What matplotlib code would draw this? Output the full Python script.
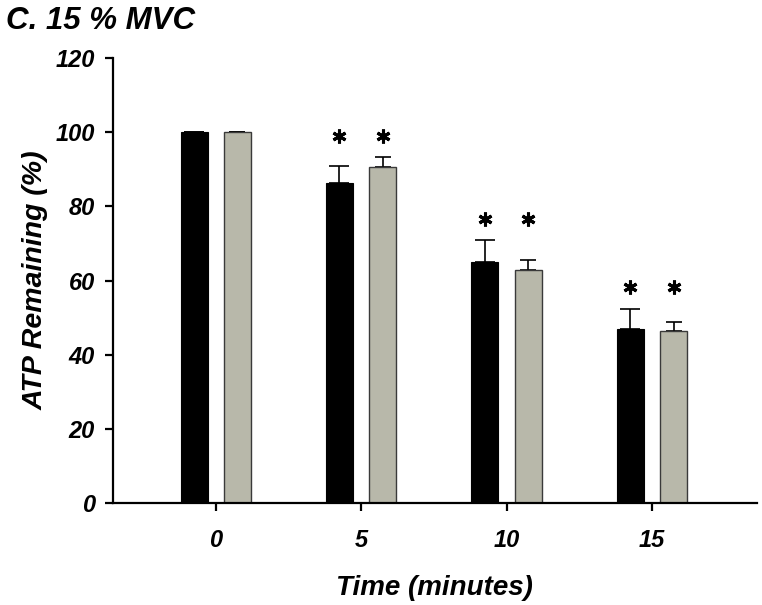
import matplotlib
matplotlib.use("Agg")
import matplotlib.pyplot as plt
import numpy as np

times = ["0", "5", "10", "15"]
black_vals = [100, 86.2, 65.0, 46.8]
black_err = [0, 4.8, 5.9, 5.5]
gray_vals = [100, 90.6, 62.8, 46.4]
gray_err = [0, 2.6, 2.7, 2.3]
star_y = [None, 99.0, 76.6, 58.3]

fig = plt.figure(figsize=(7.62, 6.05), dpi=100)
ax = fig.add_axes([0.148, 0.1686, 0.845, 0.7354])

x = np.arange(len(times))
off = 0.149
w = 0.186
ax.bar(x - off, black_vals, w, color="black", edgecolor="black", linewidth=0.8, zorder=2)
ax.bar(x + off, gray_vals, w, color="#b8b8aa", edgecolor="#3a3a3a", linewidth=1.0, zorder=2)
ax.errorbar(x - off, black_vals, yerr=[np.zeros(4), black_err], fmt="none",
            ecolor="black", elinewidth=1.2, capsize=7, capthick=1.2, zorder=1)
ax.errorbar(x + off, gray_vals, yerr=[np.zeros(4), gray_err], fmt="none",
            ecolor="black", elinewidth=1.2, capsize=6, capthick=1.2, zorder=1)

for i in range(len(times)):
    if star_y[i] is not None:
        ax.plot([x[i] - off, x[i] + off], [star_y[i], star_y[i]], linestyle="none",
                marker=(6, 2, 0), markersize=10, markeredgewidth=2.2, color="black",
                clip_on=False, zorder=3)

ax.set_xlim(-0.708, 3.72)
ax.set_ylim(0, 120)
ax.set_yticks([0, 20, 40, 60, 80, 100, 120])
ax.set_xticks(x)
ax.set_xticklabels(times)
for s in ["top", "right"]:
    ax.spines[s].set_visible(False)
for s in ["left", "bottom"]:
    ax.spines[s].set_linewidth(1.6)
ax.tick_params(axis="both", width=1.6, length=6, direction="out")
ax.tick_params(axis="x", pad=13)
ax.tick_params(axis="y", pad=7)
for lab in ax.get_xticklabels() + ax.get_yticklabels():
    lab.set_family("Liberation Sans")
    lab.set_fontweight("bold")
    lab.set_fontstyle("italic")
    lab.set_fontsize(17)

ax.set_ylabel("ATP Remaining (%)", fontsize=20.5, fontweight="bold", fontstyle="italic",
              family="Liberation Sans", labelpad=5)
ax.set_xlabel("Time (minutes)", fontsize=20, fontweight="bold", fontstyle="italic",
              family="Liberation Sans", labelpad=16)
fig.text(0.008, 0.965, "C. 15 % MVC", fontsize=22.5, fontweight="bold", fontstyle="italic",
         family="Liberation Sans", ha="left", va="center")

fig.savefig("out.png", dpi=100)
